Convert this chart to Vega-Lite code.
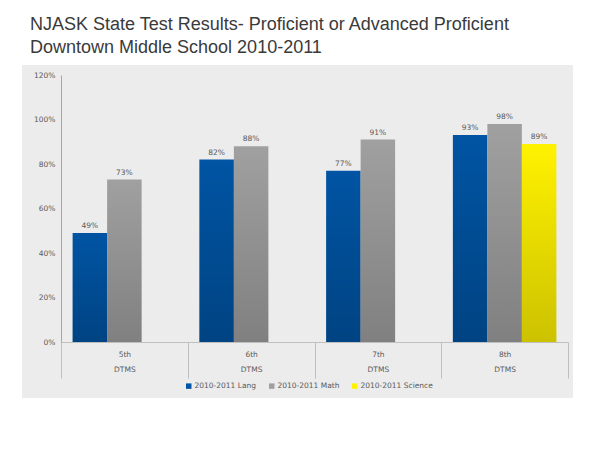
{
  "$schema": "https://vega.github.io/schema/vega-lite/v6.json",
  "width": 551,
  "height": 333,
  "padding": {"left": 22, "right": 32, "top": 16, "bottom": 56},
  "background": "white",
  "title": {
    "text": ["NJASK State Test Results- Proficient or Advanced Proficient", "Downtown Middle School 2010-2011"],
    "anchor": "start",
    "dx": 8,
    "fontSize": 18,
    "lineHeight": 23,
    "font": "Liberation Sans",
    "fontWeight": "normal",
    "color": "#3a3a3a",
    "offset": 8
  },
  "config": {
    "view": {"fill": "#ececec", "stroke": null},
    "font": "DejaVu Sans"
  },
  "data": {
    "values": [
      {"grade": "5th", "series": "2010-2011 Lang", "value": 0.49},
      {"grade": "5th", "series": "2010-2011 Math", "value": 0.73},
      {"grade": "6th", "series": "2010-2011 Lang", "value": 0.82},
      {"grade": "6th", "series": "2010-2011 Math", "value": 0.88},
      {"grade": "7th", "series": "2010-2011 Lang", "value": 0.77},
      {"grade": "7th", "series": "2010-2011 Math", "value": 0.91},
      {"grade": "8th", "series": "2010-2011 Lang", "value": 0.93},
      {"grade": "8th", "series": "2010-2011 Math", "value": 0.98},
      {"grade": "8th", "series": "2010-2011 Science", "value": 0.89}
    ]
  },
  "encoding": {
    "x": {
      "field": "grade",
      "type": "nominal",
      "sort": ["5th", "6th", "7th", "8th"],
      "scale": {"range": [39, 546], "paddingInner": 0, "paddingOuter": 0},
      "axis": {
        "title": null,
        "orient": "bottom",
        "offset": -56,
        "tickBand": "extent",
        "tickSize": 36,
        "tickColor": "#bfbfbf",
        "domainColor": "#bfbfbf",
        "labelExpr": "datum.label ? [datum.label, 'DTMS'] : ''",
        "labelFontSize": 7.5,
        "labelColor": "#595959",
        "labelPadding": -28,
        "labelLineHeight": 15,
        "labelAngle": 0,
        "labelBaseline": "top"
      }
    },
    "xOffset": {
      "field": "series",
      "type": "nominal",
      "scale": {
        "domain": ["2010-2011 Lang", "2010-2011 Math", "2010-2011 Science"],
        "paddingOuter": 0.337,
        "paddingInner": 0
      }
    },
    "y": {
      "field": "value",
      "type": "quantitative",
      "scale": {"domain": [0, 1.2], "range": [277, 10], "nice": false, "zero": true},
      "axis": {
        "title": null,
        "values": [0, 0.2, 0.4, 0.6, 0.8, 1.0, 1.2],
        "format": ".0%",
        "offset": -39,
        "ticks": false,
        "grid": false,
        "domainColor": "#a6a6a6",
        "labelPadding": 6,
        "labelFontSize": 7.5,
        "labelColor": "#595959"
      }
    }
  },
  "layer": [
    {
      "mark": {"type": "bar"},
      "encoding": {
        "color": {
          "field": "series",
          "type": "nominal",
          "scale": {
            "domain": ["2010-2011 Lang", "2010-2011 Math", "2010-2011 Science"],
            "range": ["#0054a3", "#a0a0a0", "#fff200"]
          },
          "legend": {
            "orient": "none",
            "legendX": 163,
            "legendY": 317,
            "direction": "horizontal",
            "title": null,
            "symbolType": "square",
            "symbolSize": 30,
            "symbolStrokeWidth": 0,
            "labelFontSize": 7.5,
            "labelColor": "#595959",
            "labelOffset": 2,
            "columnPadding": 11
          }
        }
      }
    },
    {
      "mark": {
        "type": "bar",
        "color": {
          "gradient": "linear",
          "x1": 0, "y1": 0, "x2": 0, "y2": 1,
          "stops": [
            {"offset": 0, "color": "rgba(0,0,0,0)"},
            {"offset": 1, "color": "rgba(0,0,0,0.2)"}
          ]
        }
      }
    },
    {
      "mark": {"type": "text", "dy": -7, "fontSize": 7.5, "color": "#595959"},
      "encoding": {
        "text": {"field": "value", "type": "quantitative", "format": ".0%"}
      }
    }
  ]
}
